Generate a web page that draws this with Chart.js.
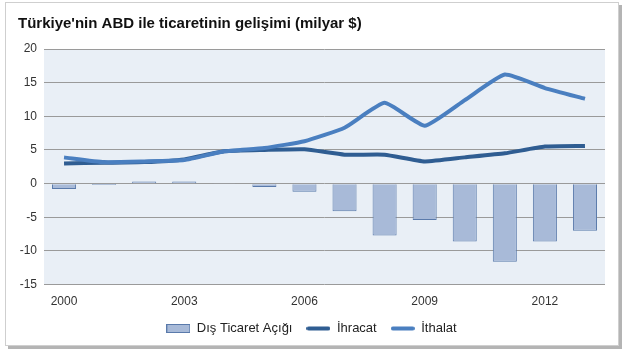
<!DOCTYPE html>
<html>
<head>
<meta charset="utf-8">
<script src="https://cdn.jsdelivr.net/npm/chart.js@4/dist/chart.umd.min.js"></script>
<style>
  body { margin: 0; background: #ffffff; }
  #frame { position: absolute; left: 5px; top: 2px; width: 612px; height: 342px;
           border: 1px solid #cfcfcf; box-shadow: 3px 3px 0 #b4b4b4; }
  #wrap { position: absolute; left: 0; top: 0; width: 625px; height: 351px; }
</style>
</head>
<body>
<div id="frame"></div>
<div id="wrap"><canvas id="myChart" width="625" height="351"></canvas></div>
<script>
var ctx = document.getElementById('myChart').getContext('2d');

// years on the x axis
var years = ['2000','2001','2002','2003','2004','2005','2006','2007','2008','2009','2010','2011','2012','2013'];
// values in milyar $
var disTicaretAcigi = [-0.8, -0.2, 0.3, 0.3, 0.1, -0.5, -1.2, -4.1, -7.7, -5.4, -8.6, -11.6, -8.6, -7.0];
var ihracat = [3.0, 3.1, 3.2, 3.6, 4.8, 5.0, 5.1, 4.3, 4.3, 3.3, 3.9, 4.5, 5.5, 5.6];
var ithalat = [3.9, 3.2, 3.3, 3.5, 4.8, 5.3, 6.3, 8.3, 12.0, 8.6, 12.4, 16.2, 14.2, 12.6];
var yTicks = [-15, -10, -5, 0, 5, 10, 15, 20];

var barFill = '#a8bad8';
var barBorder = '#5a7aab';
var darkLine = '#2f5d92';
var lightLine = '#4a7fc0';

// little legend swatches
function swatch(kind, color, border) {
    var c = document.createElement('canvas');
    c.width = 24; c.height = 9;
    var g = c.getContext('2d');
    if (kind == 'bar') {
        g.fillStyle = color;
        g.fillRect(0.5, 0.5, 23, 8);
        g.strokeStyle = border;
        g.lineWidth = 1;
        g.strokeRect(0.5, 0.5, 23, 8);
    } else {
        g.strokeStyle = color;
        g.lineWidth = 4;
        g.lineCap = 'round';
        g.beginPath();
        g.moveTo(2, 4.5);
        g.lineTo(22, 4.5);
        g.stroke();
    }
    return c;
}

var plotBg = {
    id: 'plotBg',
    beforeDraw: function(chart) {
        var a = chart.chartArea;
        var c = chart.ctx;
        c.save();
        c.fillStyle = '#e9eff6';
        c.fillRect(a.left, a.top, a.right - a.left, a.bottom - a.top);
        c.restore();
    }
};

var font = "'Liberation Sans', Arial, sans-serif";

var chart = new Chart(ctx, {
    type: 'bar',
    data: {
        labels: years,
        datasets: [
            {
                type: 'line',
                label: 'İthalat',
                data: ithalat,
                borderColor: lightLine,
                backgroundColor: lightLine,
                borderWidth: 4,
                pointRadius: 0,
                tension: 0.15,
                pointStyle: swatch('line', lightLine),
                order: 1
            },
            {
                type: 'line',
                label: 'İhracat',
                data: ihracat,
                borderColor: darkLine,
                backgroundColor: darkLine,
                borderWidth: 4,
                pointRadius: 0,
                tension: 0.15,
                pointStyle: swatch('line', darkLine),
                order: 2
            },
            {
                label: 'Dış Ticaret Açığı',
                data: disTicaretAcigi,
                backgroundColor: barFill,
                borderColor: barBorder,
                borderWidth: 1,
                barPercentage: 0.6,
                categoryPercentage: 1,
                pointStyle: swatch('bar', barFill, barBorder),
                order: 3
            }
        ]
    },
    options: {
        responsive: false,
        animation: false,
        layout: { padding: { left: 18, right: 20, top: 4, bottom: 6 } },
        plugins: {
            title: {
                display: true,
                text: "Türkiye'nin ABD ile ticaretinin gelişimi (milyar $)",
                align: 'start',
                color: '#111',
                font: { family: font, size: 15, weight: 'bold' },
                padding: { top: 11, bottom: 16 }
            },
            legend: {
                position: 'bottom',
                reverse: true,
                labels: {
                    usePointStyle: true,
                    pointStyleWidth: 24,
                    boxHeight: 9,
                    color: '#222',
                    font: { family: font, size: 13 },
                    padding: 14
                }
            },
            tooltip: { enabled: false }
        },
        scales: {
            x: {
                grid: { display: false, drawTicks: false },
                border: { display: false },
                afterFit: function(axis) { axis.height = axis.height - 11; },
                ticks: {
                    autoSkip: false,
                    maxRotation: 0,
                    color: '#333',
                    font: { family: font, size: 12 },
                    padding: 10,
                    callback: function(v, i) { return i % 3 == 0 ? years[i] : ''; }
                }
            },
            y: {
                min: -15,
                max: 20,
                afterBuildTicks: function(axis) {
                    axis.ticks = yTicks.map(function(v) { return { value: v }; });
                },
                afterFit: function(axis) { axis.width = 26; },
                grid: { color: '#9a9a9a', lineWidth: 1, drawTicks: false },
                border: { display: false },
                ticks: {
                    color: '#333',
                    font: { family: font, size: 12 },
                    padding: 7
                }
            }
        }
    },
    plugins: [plotBg]
});
</script>
</body>
</html>
